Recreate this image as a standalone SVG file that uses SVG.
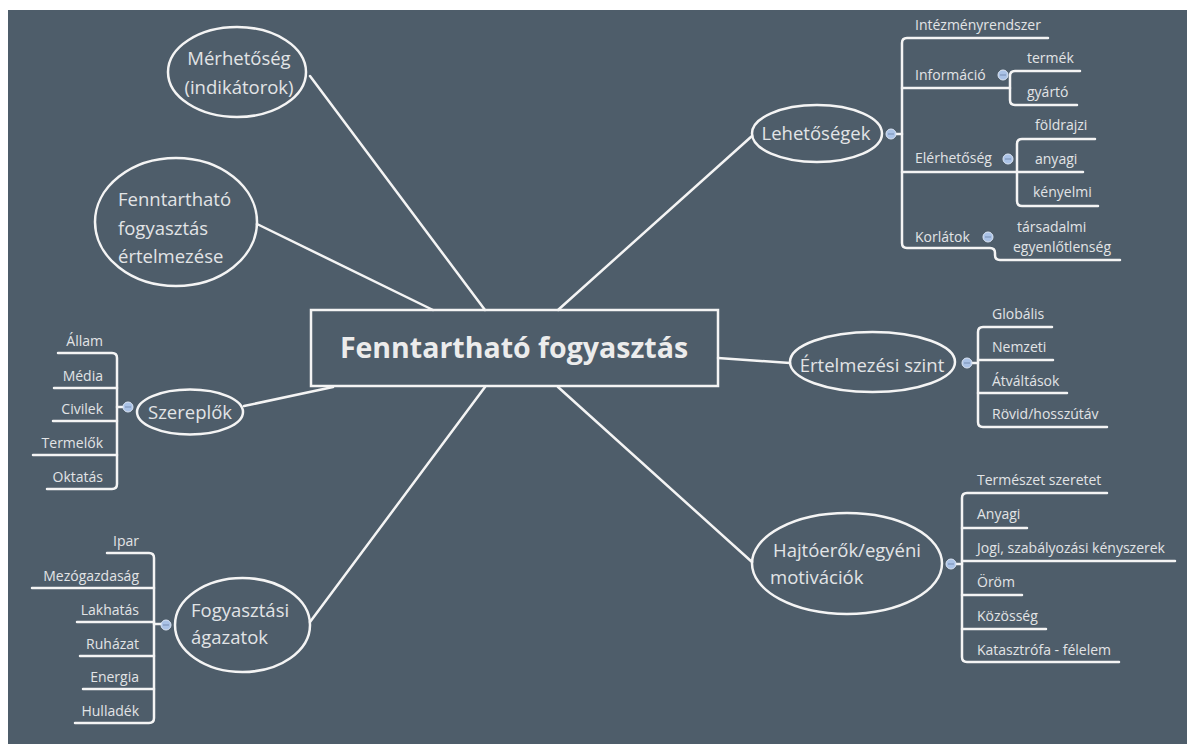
<svg xmlns="http://www.w3.org/2000/svg" width="1187" height="744" viewBox="0 0 1187 744">
<defs>
<style>
.bg{fill:#4e5d6a}
.ln{fill:none;stroke:#f4f4f4;stroke-width:2.5;stroke-linecap:round;stroke-linejoin:round}
.el{fill:none;stroke:#f4f4f4;stroke-width:2.5}
.t{font-family:"Open Sans","Noto Sans","DejaVu Sans",sans-serif;fill:#e2e4e6}
.n{font-size:18.5px}
.s{font-size:14px}
.r{text-anchor:end}
.c{text-anchor:middle}
.title{font-size:28.5px;font-weight:bold;fill:#ececec}
.dot{fill:#aac2e6;stroke:#dce6f5;stroke-width:1}
.dm{stroke:#7f96bb;stroke-width:1.2}
</style>
</defs>
<rect x="0" y="0" width="1187" height="744" fill="#ffffff"/>
<rect class="bg" x="8" y="10" width="1179" height="734"/>
<g id="connectors">
<path class="ln" d="M485,310 L310,76"/>
<path class="ln" d="M433,310 L257,224"/>
<path class="ln" d="M333,387 L244,406"/>
<path class="ln" d="M485,387 L310,622"/>
<path class="ln" d="M558,310 L752,136"/>
<path class="ln" d="M718,358 L790,363"/>
<path class="ln" d="M558,387 L752,562"/>
<path class="ln" d="M58,353 H112 Q117,353 117,358 V484 Q117,489 112,489 H47"/>
<path class="ln" d="M54,388 H117 M53,421 H117 M33,455 H117 M117,407 H123"/>
<path class="ln" d="M107,553 H149 Q154,553 154,558 V718 Q154,723 149,723 H75"/>
<path class="ln" d="M32,588 H154 M77,622 H154 M80,656 H154 M83,689 H154 M154,624 H161"/>
<path class="ln" d="M1048,38 H907 Q902,38 902,43 V243 Q902,248 907,248 H990 Q995,248 995,253 V255 Q995,260 1000,260 H1120"/>
<path class="ln" d="M902,88 H1010 M902,172 H1083 M896,134 H902"/>
<path class="ln" d="M1080,71 H1015 Q1010,71 1010,76 V100 Q1010,105 1015,105 H1077"/>
<path class="ln" d="M1095,139 H1022 Q1017,139 1017,144 V201 Q1017,206 1022,206 H1098"/>
<path class="ln" d="M1052,327 H983 Q978,327 978,332 V422 Q978,427 983,427 H1107"/>
<path class="ln" d="M978,360 H1053 M978,393 H1067 M972,363 H978"/>
<path class="ln" d="M1107,493 H967 Q962,493 962,498 V657 Q962,662 967,662 H1119"/>
<path class="ln" d="M962,528 H1027 M962,561 H1175 M962,595 H1022 M962,629 H1046 M956,564 H962"/>
</g>
<g id="dots">
<circle class="dot" cx="128" cy="407" r="5"/><path class="dm" d="M125,407 H131"/>
<circle class="dot" cx="166" cy="625" r="5"/><path class="dm" d="M163,625 H169"/>
<circle class="dot" cx="891" cy="134" r="5"/><path class="dm" d="M888,134 H894"/>
<circle class="dot" cx="1003" cy="75" r="5"/><path class="dm" d="M1000,75 H1006"/>
<circle class="dot" cx="1008" cy="159" r="5"/><path class="dm" d="M1005,159 H1011"/>
<circle class="dot" cx="988" cy="237" r="5"/><path class="dm" d="M985,237 H991"/>
<circle class="dot" cx="967" cy="363" r="5"/><path class="dm" d="M964,363 H970"/>
<circle class="dot" cx="951" cy="564" r="5"/><path class="dm" d="M948,564 H954"/>
</g>
<g id="center">
<rect x="311" y="310" width="407" height="76" fill="none" stroke="#f4f4f4" stroke-width="2.5"/>
<text class="t title c" x="514" y="358">Fenntartható fogyasztás</text>
</g>
<g id="merhetoseg">
<ellipse class="el" cx="237" cy="72" rx="69" ry="45"/>
<text class="t n c" x="239" y="65">Mérhetőség</text>
<text class="t n c" x="239" y="94">(indikátorok)</text>
</g>
<g id="ertelmezese">
<ellipse class="el" cx="176" cy="222" rx="81" ry="64"/>
<text class="t n" x="118" y="206">Fenntartható</text>
<text class="t n" x="118" y="235">fogyasztás</text>
<text class="t n" x="118" y="263">értelmezése</text>
</g>
<g id="szereplok">
<ellipse class="el" cx="190" cy="412" rx="53" ry="22.5"/>
<text class="t n c" x="190" y="419">Szereplők</text>
</g>
<g id="szereplok-children">
<text class="t s r" x="103" y="346">Állam</text>
<text class="t s r" x="103" y="381">Média</text>
<text class="t s r" x="103" y="414">Civilek</text>
<text class="t s r" x="103" y="448">Termelők</text>
<text class="t s r" x="103" y="482">Oktatás</text>
</g>
<g id="agazatok">
<ellipse class="el" cx="242.5" cy="625" rx="67.5" ry="47"/>
<text class="t n" x="191" y="617">Fogyasztási</text>
<text class="t n" x="191" y="644">ágazatok</text>
</g>
<g id="agazatok-children">
<text class="t s r" x="139" y="546">Ipar</text>
<text class="t s r" x="139" y="581">Mezógazdaság</text>
<text class="t s r" x="139" y="615">Lakhatás</text>
<text class="t s r" x="139" y="649">Ruházat</text>
<text class="t s r" x="139" y="682">Energia</text>
<text class="t s r" x="139" y="716">Hulladék</text>
</g>
<g id="lehetosegek">
<ellipse class="el" cx="817" cy="133.5" rx="65" ry="28.5"/>
<text class="t n c" x="816" y="140">Lehetőségek</text>
</g>
<g id="lehetosegek-children">
<text class="t s" x="915" y="30">Intézményrendszer</text>
<text class="t s" x="915" y="80">Információ</text>
<text class="t s" x="1027" y="63">termék</text>
<text class="t s" x="1027" y="97">gyártó</text>
<text class="t s" x="915" y="163">Elérhetőség</text>
<text class="t s" x="1035" y="130">földrajzi</text>
<text class="t s" x="1035" y="164">anyagi</text>
<text class="t s" x="1033" y="197">kényelmi</text>
<text class="t s" x="915" y="242">Korlátok</text>
<text class="t s" x="1017" y="232">társadalmi</text>
<text class="t s" x="1013" y="252">egyenlőtlenség</text>
</g>
<g id="ertelmezesi-szint">
<ellipse class="el" cx="872.5" cy="362" rx="82.5" ry="30"/>
<text class="t n c" x="872" y="372">Értelmezési szint</text>
</g>
<g id="ertelmezesi-children">
<text class="t s" x="992" y="319">Globális</text>
<text class="t s" x="992" y="352">Nemzeti</text>
<text class="t s" x="992" y="386">Átváltások</text>
<text class="t s" x="992" y="419">Rövid/hosszútáv</text>
</g>
<g id="hajtoerok">
<ellipse class="el" cx="847" cy="563.5" rx="95" ry="50.5"/>
<text class="t n" x="773" y="557">Hajtóerők/egyéni</text>
<text class="t n" x="770" y="584">motivációk</text>
</g>
<g id="hajtoerok-children">
<text class="t s" x="977" y="485">Természet szeretet</text>
<text class="t s" x="977" y="519">Anyagi</text>
<text class="t s" x="977" y="553">Jogi, szabályozási kényszerek</text>
<text class="t s" x="977" y="587">Öröm</text>
<text class="t s" x="977" y="621">Közösség</text>
<text class="t s" x="977" y="655">Katasztrófa - félelem</text>
</g>
</svg>
